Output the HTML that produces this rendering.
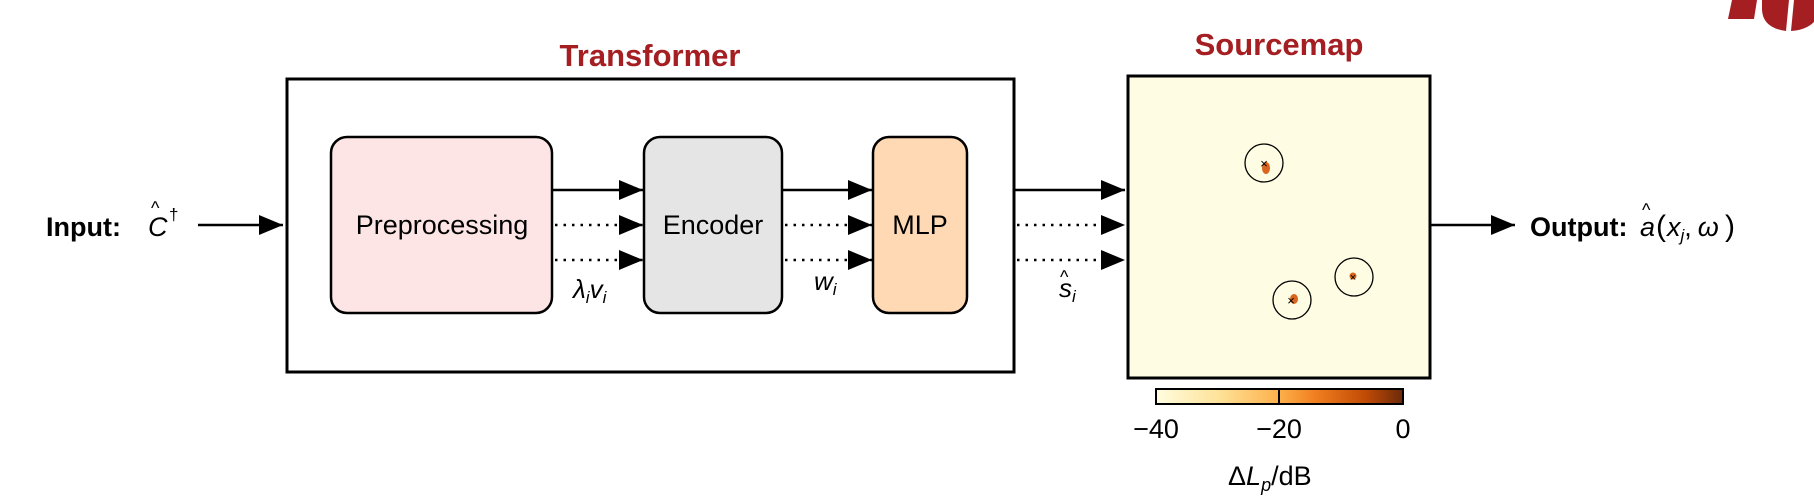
<!DOCTYPE html>
<html><head><meta charset="utf-8"><style>
html,body{margin:0;padding:0;background:#fff;}
svg{display:block;}
text{font-family:"Liberation Sans",Arial,sans-serif;}
</style></head><body>
<svg width="1814" height="497" viewBox="0 0 1814 497" xmlns="http://www.w3.org/2000/svg">
<defs>
<marker id="ah" markerWidth="24" markerHeight="20" refX="24" refY="10" orient="auto" markerUnits="userSpaceOnUse" viewBox="0 0 24 20"><path d="M0,0 L24,10 L0,20 z" fill="#000"/></marker>
<linearGradient id="cb" x1="0" x2="1" y1="0" y2="0">
<stop offset="0" stop-color="#fffde0"/><stop offset="0.25" stop-color="#fee39a"/><stop offset="0.5" stop-color="#fdb04a"/><stop offset="0.65" stop-color="#f07d1e"/><stop offset="0.85" stop-color="#c04a06"/><stop offset="1" stop-color="#6b2a0a"/>
</linearGradient>
</defs>
<path d="M1732,0 L1757,0 L1754,19 L1728,19 z" fill="#a51e22"/>
<path d="M1762,0 L1789,0 L1786,31 Q1763,28 1762,10 z" fill="#a51e22"/>
<path d="M1794,0 L1814,0 L1814,22 Q1806,30 1791,31 z" fill="#a51e22"/>

<text x="650" y="66" font-size="31" font-weight="bold" fill="#a51e22" text-anchor="middle">Transformer</text>
<text x="1279" y="55" font-size="31" font-weight="bold" fill="#a51e22" text-anchor="middle">Sourcemap</text>

<rect x="287" y="79" width="727" height="293" fill="#fff" stroke="#000" stroke-width="3"/>

<rect x="331" y="137" width="221" height="176" rx="16" fill="#fde5e6" stroke="#000" stroke-width="2.5"/>
<rect x="644" y="137" width="138" height="176" rx="16" fill="#e5e5e5" stroke="#000" stroke-width="2.5"/>
<rect x="873" y="137" width="94" height="176" rx="16" fill="#fed9b4" stroke="#000" stroke-width="2.5"/>
<text x="442" y="234" font-size="27" text-anchor="middle">Preprocessing</text>
<text x="713" y="234" font-size="27" text-anchor="middle">Encoder</text>
<text x="920" y="234" font-size="27" text-anchor="middle">MLP</text>

<g stroke="#000" stroke-width="2.5" marker-end="url(#ah)">
<line x1="198" y1="225" x2="283" y2="225"/>
<line x1="553" y1="190" x2="643" y2="190"/>
<line x1="783" y1="190" x2="872" y2="190"/>
<line x1="1015" y1="190" x2="1125" y2="190"/>
<line x1="1431" y1="225" x2="1515" y2="225"/>
</g>
<g stroke="#000" stroke-width="2.5" stroke-dasharray="2.5 6" marker-end="url(#ah)">
<line x1="555" y1="225" x2="643" y2="225"/>
<line x1="555" y1="260" x2="643" y2="260"/>
<line x1="785" y1="225" x2="872" y2="225"/>
<line x1="785" y1="260" x2="872" y2="260"/>
<line x1="1017" y1="225" x2="1125" y2="225"/>
<line x1="1017" y1="260" x2="1125" y2="260"/>
</g>

<text x="46" y="236" font-size="27" font-weight="bold">Input:</text>
<text x="148" y="236" font-size="27" font-style="italic">C</text>
<text x="151" y="214" font-size="18">^</text>
<text x="169" y="220" font-size="17">†</text>

<text x="573" y="298" font-size="26" font-style="italic">λ<tspan font-size="17" dy="5">i</tspan><tspan dy="-5">v</tspan><tspan font-size="17" dy="5">i</tspan></text>
<text x="814" y="290" font-size="26" font-style="italic">w<tspan font-size="17" dy="5">i</tspan></text>
<text x="1059" y="297" font-size="26" font-style="italic">s<tspan font-size="17" dy="5">i</tspan></text>
<text x="1060" y="283" font-size="18">^</text>

<rect x="1128" y="76" width="302" height="302" fill="#fefde3" stroke="#000" stroke-width="3"/>
<circle cx="1264" cy="163" r="19" fill="none" stroke="#000" stroke-width="1.3"/>
<circle cx="1292" cy="300" r="19" fill="none" stroke="#000" stroke-width="1.3"/>
<circle cx="1354" cy="277" r="19" fill="none" stroke="#000" stroke-width="1.3"/>
<ellipse cx="1266" cy="168" rx="4" ry="6" fill="#d9651e"/>
<ellipse cx="1294" cy="299" rx="4" ry="5" fill="#d9651e"/>
<circle cx="1353" cy="276" r="3.5" fill="#d9651e"/>
<text x="1264" y="168" font-size="13" text-anchor="middle">×</text>
<text x="1291" y="305" font-size="13" text-anchor="middle">×</text>
<text x="1353" y="281" font-size="11" text-anchor="middle">×</text>

<rect x="1156" y="389" width="247" height="15" fill="url(#cb)" stroke="#000" stroke-width="2"/>
<line x1="1279" y1="389" x2="1279" y2="404" stroke="#000" stroke-width="2"/>
<text x="1156" y="438" font-size="27" text-anchor="middle">−40</text>
<text x="1279" y="438" font-size="27" text-anchor="middle">−20</text>
<text x="1403" y="438" font-size="27" text-anchor="middle">0</text>
<text x="1228" y="485" font-size="27">Δ<tspan font-style="italic">L</tspan><tspan font-size="18" font-style="italic" dy="6">p</tspan><tspan dy="-6">/dB</tspan></text>

<text x="1530" y="236" font-size="27" font-weight="bold">Output:</text>
<text x="1640" y="236" font-size="27" font-style="italic">a</text>
<text x="1642" y="216" font-size="18">^</text>
<text x="1656" y="236" font-size="30">(</text>
<text x="1667" y="236" font-size="27" font-style="italic">x<tspan font-size="17" dy="5">j</tspan><tspan dy="-5" font-style="normal">,</tspan><tspan dx="6">ω</tspan></text>
<text x="1725" y="236" font-size="30">)</text>
</svg>
</body></html>
